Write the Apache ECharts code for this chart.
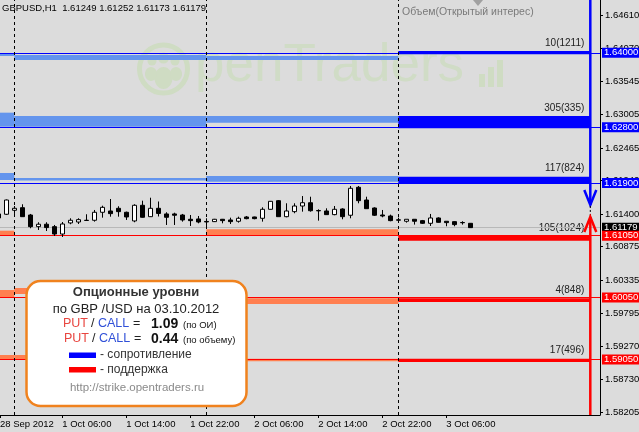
<!DOCTYPE html>
<html><head><meta charset="utf-8">
<script src="https://cdn.jsdelivr.net/npm/echarts@6/dist/echarts.min.js"></script>
<style>html,body{margin:0;padding:0;background:#dcdcdc}#c{width:639px;height:432px}</style>
</head><body><div id="c"></div><script>
// ---------- DATA ----------
const symbolHeader = 'GBPUSD,H1  1.61249 1.61252 1.61173 1.61179';
const panelTitle = 'Объем(Открытый интерес)';
// bar index (hourly bars, 1 Oct 00:00 = 1)
const barIdx = [-1,0,1,2,3,4,5,6,7,8,9,10,11,12,13,14,15,16,17,18,19,20,21,22,23,24,25,26,27,28,29,30,31,32,33,34,35,36,37,38,39,40,41,42,43,44,45,46,47,48,49,50,51,52,53,54,55,56,57,58];
// [open, high, low, close]
const ohlc = [
[1.61400,1.61410,1.61320,1.61335],
[1.61395,1.61633,1.61383,1.61625],
[1.61459,1.61528,1.61400,1.61491],
[1.61501,1.61556,1.61351,1.61356],
[1.61383,1.61400,1.61169,1.61195],
[1.61195,1.61266,1.61141,1.61234],
[1.61234,1.61266,1.61125,1.61180],
[1.61195,1.61222,1.61044,1.61076],
[1.61076,1.61270,1.61028,1.61238],
[1.61255,1.61330,1.61234,1.61298],
[1.61270,1.61330,1.61238,1.61308],
[1.61298,1.61395,1.61287,1.61295],
[1.61298,1.61464,1.61276,1.61427],
[1.61427,1.61533,1.61340,1.61507],
[1.61448,1.61641,1.61356,1.61405],
[1.61491,1.61524,1.61356,1.61437],
[1.61427,1.61437,1.61303,1.61351],
[1.61287,1.61556,1.61266,1.61540],
[1.61540,1.61614,1.61340,1.61346],
[1.61356,1.61662,1.61351,1.61491],
[1.61491,1.61601,1.61359,1.61408],
[1.61400,1.61427,1.61222,1.61346],
[1.61400,1.61420,1.61222,1.61379],
[1.61383,1.61400,1.61276,1.61303],
[1.61314,1.61383,1.61206,1.61292],
[1.61319,1.61367,1.61249,1.61270],
[1.61279,1.61330,1.61206,1.61271],
[1.61276,1.61320,1.61270,1.61314],
[1.61314,1.61319,1.61249,1.61292],
[1.61303,1.61340,1.61238,1.61276],
[1.61282,1.61356,1.61260,1.61330],
[1.61351,1.61367,1.61314,1.61324],
[1.61351,1.61356,1.61314,1.61324],
[1.61330,1.61507,1.61276,1.61475],
[1.61475,1.61609,1.61472,1.61604],
[1.61614,1.61625,1.61356,1.61356],
[1.61356,1.61572,1.61346,1.61448],
[1.61437,1.61572,1.61411,1.61528],
[1.61528,1.61689,1.61437,1.61581],
[1.61581,1.61678,1.61437,1.61452],
[1.61455,1.61475,1.61292,1.61450],
[1.61448,1.61491,1.61383,1.61389],
[1.61389,1.61528,1.61379,1.61475],
[1.61480,1.61491,1.61314,1.61356],
[1.61379,1.61851,1.61330,1.61814],
[1.61830,1.61851,1.61572,1.61614],
[1.61625,1.61678,1.61485,1.61485],
[1.61496,1.61507,1.61367,1.61379],
[1.61383,1.61464,1.61346,1.61367],
[1.61367,1.61389,1.61282,1.61292],
[1.61305,1.61340,1.61260,1.61300],
[1.61282,1.61314,1.61260,1.61314],
[1.61314,1.61314,1.61228,1.61282],
[1.61292,1.61303,1.61238,1.61249],
[1.61249,1.61400,1.61206,1.61335],
[1.61335,1.61346,1.61260,1.61265],
[1.61282,1.61282,1.61201,1.61260],
[1.61276,1.61282,1.61201,1.61228],
[1.61262,1.61282,1.61228,1.61258],
[1.61249,1.61252,1.61173,1.61179]
];
const bidPrice = 1.61179;
const xLabelIdx = [-1, 7, 15, 23, 31, 39, 47, 55];
const xLabelText = ['28 Sep 2012','1 Oct 06:00','1 Oct 14:00','1 Oct 22:00','2 Oct 06:00','2 Oct 14:00','2 Oct 22:00','3 Oct 06:00'];
const yTickValues = [1.64610,1.64070,1.63545,1.63005,1.62465,1.61940,1.61400,1.60875,1.60335,1.59795,1.59270,1.58730,1.58205];
const daySeparators = [1, 25, 49];
const dayBounds = [-2, 1, 25, 49, 73];   // segment edges in bar index (last = projection end)
// option levels
const levelPrices = [1.64000, 1.62800, 1.61900, 1.61050, 1.60050, 1.59050];
const levelSide   = ['R','R','R','S','S','S'];   // R = resistance (call), S = support (put)
const levelNotes  = ['10(1211)','305(335)','117(824)','105(1024)','4(848)','17(496)'];
// per level: band [low, high] for day 28 Sep, 1 Oct, 2 Oct, 3 Oct (current)
const levelBands = [
  [[1.63949,1.63997],[1.63884,1.63965],[1.63884,1.63949],[1.63976,1.64029]],
  [[1.62808,1.63034],[1.62808,1.62980],[1.62872,1.62980],[1.62782,1.62980]],
  [[1.61948,1.62061],[1.61940,1.61980],[1.61920,1.62012],[1.61895,1.62001]],
  [[1.61044,1.61130],null,[1.61044,1.61152],[1.60968,1.61044]],
  [[1.60044,1.60173],[1.60109,1.60205],[1.59947,1.60039],[1.59979,1.60039]],
  [[1.59044,1.59124],[1.59044,1.59124],[1.59023,1.59065],[1.59011,1.59065]]
];
// projection arrows: [bar index, resistance arrow tip, support arrow tip]
const arrowData = [[73, 1.61545, 1.61351]];
// info box
const infoTitle = 'Опционные уровни';
const infoSub = 'по GBP /USD на 03.10.2012';
const pcOI = '1.09', pcVol = '0.44';
const infoUrl = 'http://strike.opentraders.ru';

// ---------- CHART ----------
const FONT = 'Liberation Sans, Arial, sans-serif';
const chart = echarts.init(document.getElementById('c'), null, {renderer:'canvas'});
const X_MIN = -0.7875, X_MAX = 74.2125, Y_MIN = 1.58156, Y_MAX = 1.64852;

const candleData = barIdx.map((x,i)=>[x, ohlc[i][0], ohlc[i][3], ohlc[i][2], ohlc[i][1]]);
const bandData = [];
levelBands.forEach((bands, li)=>{
  bands.forEach((b, d)=>{
    if(!b) return;
    bandData.push([Math.max(dayBounds[d], X_MIN), dayBounds[d+1], b[0], b[1], li, d===3?1:0]);
  });
});
const colPrev = {R:'#6495ED', S:'#FF7F50'};
const colCur  = {R:'#0000FF', S:'#FF0000'};
const colLine = {R:'#0000FF', S:'#FF0000'};

function onTop(el){ el.z = 100; return el; }

const option = {
  backgroundColor:'#dcdcdc',
  animation:false,
  grid:{left:0, right:39, top:0, bottom:17, containLabel:false, outerBoundsMode:'none'},
  xAxis:{
    type:'value', min:X_MIN, max:X_MAX,
    splitLine:{show:false},
    axisLine:{show:true, onZero:false, lineStyle:{color:'#000', width:1}},
    axisTick:{show:true, length:3, customValues: xLabelIdx.map(v=>Math.max(v, X_MIN)), lineStyle:{color:'#000'}},
    axisLabel:{
      customValues: xLabelIdx.map(v=>Math.max(v, X_MIN)),
      formatter: v => { let k = xLabelIdx.findIndex(t=>Math.abs(Math.max(t,X_MIN)-v)<1e-6); return k>=0?xLabelText[k]:''; },
      align:'left', margin:4, color:'#000', fontSize:9.5, fontFamily:FONT
    }
  },
  yAxis:{
    type:'value', position:'right', min:Y_MIN, max:Y_MAX,
    splitLine:{show:false},
    axisLine:{show:true, onZero:false, lineStyle:{color:'#000', width:1}},
    axisTick:{show:true, length:3, customValues: yTickValues, lineStyle:{color:'#000'}},
    axisLabel:{customValues: yTickValues, formatter: v=>v.toFixed(5), margin:5, color:'#000', fontSize:9.5, fontFamily:FONT}
  },
  series:[
    {
      type:'custom', name:'bands', z:2, clip:true,
      data: bandData,
      renderItem(params, api){
        const li = api.value(4), cur = api.value(5);
        const side = levelSide[li];
        const p0 = api.coord([api.value(0), api.value(3)]);
        const p1 = api.coord([api.value(1), api.value(2)]);
        const children = [{type:'rect', shape:{x:p0[0], y:p0[1], width:p1[0]-p0[0], height:Math.max(1,p1[1]-p0[1])},
          style:{fill: cur ? colCur[side] : colPrev[side]}}];
        if(cur){
          children.push({type:'text', style:{text: levelNotes[li], x:p1[0]-6, y:p0[1]-3, align:'right', verticalAlign:'bottom',
            fill:'#222', font:'10px '+FONT}});
        }
        return {type:'group', children};
      },
      markLine:{
        silent:true, symbol:['none','none'], animation:false, precision:5,
        label:{show:true, position:'end', distance:2, fontSize:9.5, fontFamily:FONT, color:'#fff', padding:[0,3,0,2], lineHeight:10},
        data: [{yAxis:bidPrice, lineStyle:{color:'#b8b8b8', width:1, type:'solid'},
            label:{formatter:bidPrice.toFixed(5), backgroundColor:'#000'}}]
          .concat(levelPrices.map((p,i)=>({yAxis:p,
          lineStyle:{color:colLine[levelSide[i]], width:1, type:'solid'},
          label:{formatter:p.toFixed(5), backgroundColor:colCur[levelSide[i]]}})))
      }
    },
    {
      type:'candlestick', name:'GBPUSD', z:5, barWidth:5,
      encode:{x:0, y:[1,2,3,4]},
      data: candleData,
      itemStyle:{color:'#ffffff', color0:'#000000', borderColor:'#000', borderColor0:'#000', borderColorDoji:'#000', borderWidth:1},
      markLine:{
        silent:true, symbol:['none','none'], animation:false,
        label:{show:false},
        lineStyle:{color:'#000', width:1, type:[3,3]},
        data: daySeparators.map(d=>({xAxis:d}))
      }
    },
    {
      type:'custom', name:'arrows', z:6, clip:false,
      data: arrowData,
      renderItem(params, api){
        const cs = params.coordSys;
        const x = api.coord([api.value(0), api.value(1)])[0];
        const bt = api.coord([api.value(0), api.value(1)])[1];
        const rt = api.coord([api.value(0), api.value(2)])[1];
        const top = cs.y, bottom = cs.y + cs.height;
        return {type:'group', children:[
          {type:'line', shape:{x1:x,y1:top,x2:x,y2:bt}, style:{stroke:'#0000ff', lineWidth:2.5}},
          {type:'polyline', shape:{points:[[x-6,bt-15],[x,bt],[x+6,bt-15]]}, style:{stroke:'#0000ff', lineWidth:2.5, fill:null}},
          {type:'line', shape:{x1:x,y1:bt+1,x2:x,y2:rt-1}, style:{stroke:'#000', lineWidth:1, lineDash:[2,2]}},
          {type:'line', shape:{x1:x,y1:rt,x2:x,y2:bottom}, style:{stroke:'#ff0000', lineWidth:2.5}},
          {type:'polyline', shape:{points:[[x-6,rt+15],[x,rt],[x+6,rt+15]]}, style:{stroke:'#ff0000', lineWidth:2.5, fill:null}}
        ]};
      }
    }
  ],
  graphic:[
    // watermark
    {type:'group', z:0, silent:true, children:[
      {type:'circle', shape:{cx:163.5, cy:69, r:24}, style:{fill:null, stroke:'#cfdcc3', lineWidth:5}},
      {type:'circle', shape:{cx:152, cy:61, r:4.5}, style:{fill:'#cfdcc3'}},
      {type:'circle', shape:{cx:163.5, cy:58, r:5.5}, style:{fill:'#cfdcc3'}},
      {type:'circle', shape:{cx:175, cy:61, r:4.5}, style:{fill:'#cfdcc3'}},
      {type:'ellipse', shape:{cx:163.5, cy:78, rx:9, ry:11}, style:{fill:'#cfdcc3'}},
      {type:'ellipse', shape:{cx:151, cy:74, rx:6, ry:7}, style:{fill:'#cfdcc3'}},
      {type:'ellipse', shape:{cx:176, cy:74, rx:6, ry:7}, style:{fill:'#cfdcc3'}},
      {type:'text', style:{text:'penTraders', x:195, y:66.5, verticalAlign:'middle', font:'53px '+FONT, fill:'#d0dcc6'}},
      {type:'rect', shape:{x:479, y:74, width:6, height:13}, style:{fill:'#cfdcc3'}},
      {type:'rect', shape:{x:488, y:67, width:6, height:20}, style:{fill:'#cfdcc3'}},
      {type:'rect', shape:{x:497, y:60, width:6, height:27}, style:{fill:'#cfdcc3'}}
    ]},
    {type:'polygon', z:1, silent:true, shape:{points:[[473,0],[483,0],[478,6]]}, style:{fill:'#a0a0a0'}},
    {type:'text', z:50, silent:true, style:{text:symbolHeader, x:2, y:8, verticalAlign:'middle', font:'9.5px '+FONT, fill:'#000'}},
    {type:'text', z:50, silent:true, style:{text:panelTitle, x:402, y:12.5, verticalAlign:'middle', font:'10.5px '+FONT, fill:'#7a7a7a'}},
    // info box
    {type:'group', z:100, silent:true, children:[
      {type:'rect', shape:{x:26.5, y:281, width:220, height:125, r:14}, style:{fill:'#ffffff', stroke:'#f0821e', lineWidth:2.5}},
      {type:'text', style:{text:infoTitle, x:136, y:292, align:'center', verticalAlign:'middle', font:'bold 13px '+FONT, fill:'#333'}},
      {type:'text', style:{text:infoSub, x:136, y:309, align:'center', verticalAlign:'middle', font:'13px '+FONT, fill:'#222'}},
      {type:'text', style:{text:'PUT', x:63, y:324, verticalAlign:'middle', font:'12.5px '+FONT, fill:'#e8453f'}},
      {type:'text', style:{text:'/', x:91, y:324, verticalAlign:'middle', font:'12.5px '+FONT, fill:'#222'}},
      {type:'text', style:{text:'CALL', x:98, y:324, verticalAlign:'middle', font:'12.5px '+FONT, fill:'#3050d8'}},
      {type:'text', style:{text:'=', x:133, y:324, verticalAlign:'middle', font:'12.5px '+FONT, fill:'#222'}},
      {type:'text', style:{text:pcOI, x:151, y:324, verticalAlign:'middle', font:'bold 14px '+FONT, fill:'#111'}},
      {type:'text', style:{text:'(по ОИ)', x:183, y:325, verticalAlign:'middle', font:'9.5px '+FONT, fill:'#111'}},
      {type:'text', style:{text:'PUT', x:64, y:339, verticalAlign:'middle', font:'12.5px '+FONT, fill:'#e8453f'}},
      {type:'text', style:{text:'/', x:92, y:339, verticalAlign:'middle', font:'12.5px '+FONT, fill:'#222'}},
      {type:'text', style:{text:'CALL', x:99, y:339, verticalAlign:'middle', font:'12.5px '+FONT, fill:'#3050d8'}},
      {type:'text', style:{text:'=', x:134, y:339, verticalAlign:'middle', font:'12.5px '+FONT, fill:'#222'}},
      {type:'text', style:{text:pcVol, x:151, y:339, verticalAlign:'middle', font:'bold 14px '+FONT, fill:'#111'}},
      {type:'text', style:{text:'(по объему)', x:183, y:340, verticalAlign:'middle', font:'9.5px '+FONT, fill:'#111'}},
      {type:'rect', shape:{x:69, y:352.5, width:27, height:5.5}, style:{fill:'#0000ff'}},
      {type:'text', style:{text:'- сопротивление', x:100, y:355, verticalAlign:'middle', font:'12px '+FONT, fill:'#333'}},
      {type:'rect', shape:{x:69, y:367, width:27, height:5.5}, style:{fill:'#ff0000'}},
      {type:'text', style:{text:'- поддержка', x:100, y:369.5, verticalAlign:'middle', font:'12px '+FONT, fill:'#333'}},
      {type:'text', style:{text:infoUrl, x:137, y:388, align:'center', verticalAlign:'middle', font:'11.5px '+FONT, fill:'#8a8a8a'}}
    ].map(onTop)}
  ]
};
chart.setOption(option);
</script></body></html>
